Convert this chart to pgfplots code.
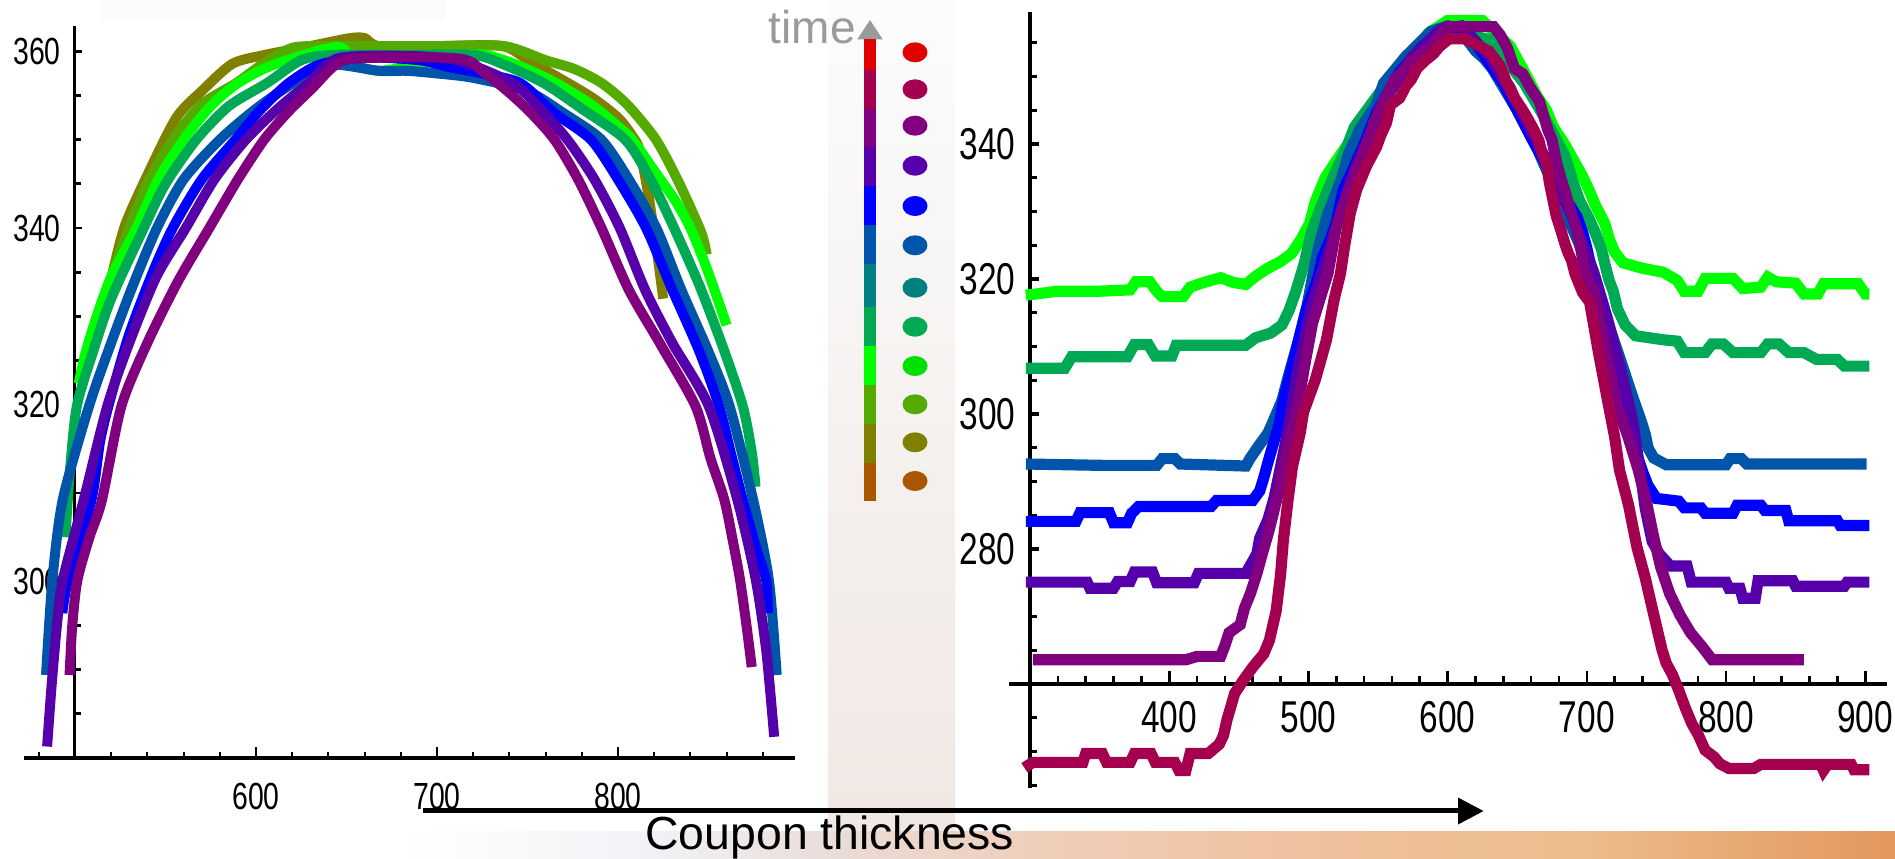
\documentclass[border=0pt]{standalone}
\usepackage{pgfplots}
\pgfplotsset{compat=1.18}
\usepackage{fontspec}
\setmainfont{Liberation Sans}
\newfontfamily\tickfont[FakeStretch=0.75]{Liberation Sans}
\newcommand{\lticks}{\tickfont\fontsize{18.9pt}{20pt}\selectfont}
\newcommand{\rticks}{\tickfont\fontsize{22.3pt}{24pt}\selectfont}

% series colours, earliest to latest
\definecolor{cBrown}{HTML}{AA5500}
\definecolor{cOlive}{HTML}{808000}
\definecolor{cYG}{HTML}{55AA00}
\definecolor{cLime}{HTML}{00FF00}
\definecolor{cLimeDot}{HTML}{00E000}
\definecolor{cGreen}{HTML}{00AA55}
\definecolor{cTeal}{HTML}{008080}
\definecolor{cSteel}{HTML}{0055AA}
\definecolor{cBlue}{HTML}{0000FF}
\definecolor{cIndigo}{HTML}{5500AA}
\definecolor{cPurple}{HTML}{800080}
\definecolor{cCrimson}{HTML}{A50050}
\definecolor{cRed}{HTML}{E00000}
\definecolor{cGrey}{HTML}{9A9A9A}
% backdrop tints
\definecolor{bgTop}{HTML}{F9FBFD}
\definecolor{bandTop}{HTML}{FBFCFD}
\definecolor{bandMid}{HTML}{F7F8FA}
\definecolor{bandBot}{HTML}{F0E7E2}
\definecolor{bgA}{HTML}{F1F2F6}
\definecolor{bgB}{HTML}{EADBD6}
\definecolor{bgC}{HTML}{F0CBB4}
\definecolor{bgD}{HTML}{EFC09C}
\definecolor{bgE}{HTML}{ECBE8E}
\definecolor{bgF}{HTML}{E6A068}
\definecolor{bgG}{HTML}{E3985C}

\begin{document}
\begin{tikzpicture}
\path[use as bounding box] (0pt,0pt) rectangle (947.5pt,-429pt);
\clip (0pt,0pt) rectangle (947.5pt,-429pt);

% ---------- backdrop ----------
\begin{scope}[x=0.5pt,y=-0.5pt]
  \fill[bgTop] (100,0) rectangle (445,20);
  \shade[top color=bandTop, middle color=bandMid, bottom color=bandBot] (828,0) rectangle (955,858);
  \shade[left color=white, right color=bgA] (400,831) rectangle (653,858);
  \shade[left color=bgA, right color=bgB] (652,831) rectangle (847,858);
  \shade[left color=bgB, right color=bgC] (846,831) rectangle (1089,858);
  \shade[left color=bgC, right color=bgD] (1088,831) rectangle (1330,858);
  \shade[left color=bgD, right color=bgE] (1329,831) rectangle (1572,858);
  \shade[left color=bgE, right color=bgF] (1571,831) rectangle (1814,858);
  \shade[left color=bgF, right color=bgG] (1813,831) rectangle (1895,858);
\end{scope}

% ---------- left panel ----------
\begin{axis}[
  at={(12.15pt,-379pt)}, anchor=south west,
  x=0.905pt, y=4.4165pt,
  xmin=472, xmax=898, ymin=280, ymax=362.9,
  hide axis, clip=false,
  every axis plot/.append style={smooth, tension=0.45, line width=5pt, mark=none},
]
  % axes crossing at (500,280)
  \draw[line width=2pt] (axis cs:472,280) -- (axis cs:898,280);
  \draw[line width=1.5pt] (axis cs:500,280) -- (axis cs:500,362.9);
  \pgfplotsinvokeforeach{480,520,540,560,580,620,640,660,680,720,740,760,780,820,840,860,880}{
    \draw[line width=1pt] (axis cs:#1,280) -- ++(0pt,2.9pt);
  }
  \pgfplotsinvokeforeach{600,700,800}{
    \draw[line width=1pt] (axis cs:#1,280) -- ++(0pt,5.6pt);
    \node[font=\lticks, inner sep=0pt] at (axis cs:#1,280) [yshift=-19.25pt] {#1};
  }
  \pgfplotsinvokeforeach{285,290,295,305,310,315,325,330,335,345,350,355}{
    \draw[line width=1.4pt] (axis cs:500,#1) -- ++(3pt,0pt);
  }
  \pgfplotsinvokeforeach{300,320,340,360}{
    \draw[line width=1.4pt] (axis cs:500,#1) -- ++(3.5pt,0pt);
    \node[font=\lticks, inner sep=0pt, anchor=east] at (axis cs:500,#1) [xshift=-7pt] {#1};
  }

  \addplot[cOlive] coordinates {
    (518,332) (522,336) (528,340.5) (540,346) (556,352.5) (570,355.5) (587,358.6)
    (605,359.6) (630,360.6) (652,361.5) (660,361.5) (668,360.6) (700,360.6) (736,360.6)
    (752,358.8) (784,355) (800,352.5) (808,350.4) (812,348.8) (817,343.5) (822,336.6) (825,332)};
  \addplot[cYG] coordinates {
    (515,331) (521,335) (529,339.5) (540,345) (554,350) (570,354) (589,356.4) (604,358.6)
    (620,360.4) (638,360.6) (674,360.6) (701,360.6) (737,360.6) (760,359) (776,358)
    (791,356.4) (805,354) (821,350) (834,345) (846,339.5) (849,337)};
  \addplot[cLime] coordinates {
    (502,322.4) (506,326) (512,330) (520,334.5) (534,340) (546,345.5) (560,350) (575,353.8)
    (590,356.4) (610,358.5) (645,360.5) (655,358.5) (668,357.8) (690,358.5) (712,359.5)
    (727,359.6) (745,358.4) (765,356.5) (785,354) (800,351.5) (808,350) (820,346.5)
    (832,343) (840,340) (848,336) (855,332) (860,329)};
  \addplot[cGreen] coordinates {
    (494.7,305) (497,312) (501,319.8) (510,326) (520,332) (538,340) (550,345) (567,350)
    (585,353.8) (606,356.4) (625,359) (643,359.6) (680,359.6) (720,359.6) (737,358.5)
    (759,356.4) (780,353.5) (804,350) (818,345.5) (831,340) (845,333.5) (858,326.5)
    (869,319.8) (874,314.5) (876,310.7)};
  \addplot[cSteel] coordinates {
    (484,289.4) (487.5,300.1) (493.2,309.2) (507.7,319.8) (520,327) (532,333.5) (545.3,340)
    (560,345.5) (580,350) (600,353.5) (620.4,356.4) (640,358.5) (668,357.8) (683,357.8)
    (700,357.5) (720,357) (750,355.5) (770,353) (790.9,350) (806,345.5) (821.2,340)
    (835,333) (850,326) (861.7,319.8) (874.7,309.2) (883.4,300.1) (887.7,289.4)};
  \addplot[cBlue] coordinates {
    (493,296.4) (496.1,300.1) (509.1,309.2) (514,316) (520,321) (530,328) (543,335)
    (554,340) (570,345.5) (588.6,350) (603,353.5) (618,356.4) (635,358.5) (660,359.3)
    (690,359) (707,358.2) (725,357.5) (746.1,356.4) (765,353) (785.1,350) (800,345.5)
    (815.5,340) (830,333) (845,326) (855.9,319.8) (863,314) (869,309.2) (876,304)
    (881.9,300.1) (882.8,296.4)};
  \addplot[cIndigo] coordinates {
    (484.6,281.3) (487,288) (490,295) (493.2,300.1) (504.8,309.2) (517.8,319.8) (530,327)
    (545,334.5) (561.2,340) (577,345.5) (594.4,350) (612,353.5) (629,356.4) (645,359.2)
    (680,359.5) (711,359) (741.8,356.4) (757,353.5) (772.1,350) (787,345.5) (801,340)
    (815,333) (830,327) (850.2,319.8) (866,309.2) (876.2,300.1) (882,292) (886.3,282.4)};
  \addplot[cPurple] coordinates {
    (497,289.4) (498.5,295) (501.3,300.1) (508,305) (514.9,309.2) (525.6,319.8) (540,327)
    (557,334) (574.2,340) (590,345.5) (604.5,350) (618,353.2) (631,355.8) (643,358.3)
    (655,359.2) (712,359.2) (726,357.6) (740,355.3) (752,353) (764.9,350) (778,345.5)
    (790.9,340) (806,333) (823,327) (842.9,319.8) (851,314) (858.8,309.2) (864,304)
    (867.5,300.1) (871,295) (873.9,290.3)};
\end{axis}

% ---------- right panel ----------
\begin{axis}[
  at={(504.56pt,-394pt)}, anchor=south west,
  x=0.696pt, y=3.375pt,
  xmin=285, xmax=916, ymin=244.6, ymax=359.5,
  hide axis, clip=false,
  every axis plot/.append style={line width=5.6pt, mark=none},
]
  % axes crossing at (300,260)
  \draw[line width=2pt] (axis cs:285,260) -- (axis cs:916,260);
  \draw[line width=1.65pt] (axis cs:300,244.6) -- (axis cs:300,359.5);
  \pgfplotsinvokeforeach{320,340,360,380,420,440,460,480,520,540,560,580,620,640,660,680,720,740,760,780,820,840,860,880}{
    \draw[line width=1.3pt] (axis cs:#1,260) -- ++(0pt,4pt);
  }
  \pgfplotsinvokeforeach{400,500,600,700,800,900}{
    \draw[line width=1.3pt] (axis cs:#1,260) -- ++(0pt,6.5pt);
    \node[font=\rticks, inner sep=0pt] at (axis cs:#1,260) [yshift=-16.75pt] {#1};
  }
  \pgfplotsinvokeforeach{245,250,255,265,270,275,285,290,295,305,310,315,325,330,335,345,350,355}{
    \draw[line width=1.6pt] (axis cs:300,#1) -- ++(3.3pt,0pt);
  }
  \pgfplotsinvokeforeach{280,300,320,340}{
    \draw[line width=1.6pt] (axis cs:300,#1) -- ++(4.5pt,0pt);
    \node[font=\rticks, inner sep=0pt, anchor=east] at (axis cs:300,#1) [xshift=-7pt] {#1};
  }

  \addplot[cLime] coordinates {
    (297,317.6) (320,318.2) (350,318.2) (372,318.4) (376,319.6) (386,319.6) (391,318.2)
    (395,317.4) (410,317.4) (415,318.8) (425,319.5) (437,320.2) (446,319.5) (455,319.2)
    (462,320.4) (470,321.5) (480,322.6) (488,323.8) (495,326) (501,328.3) (505,331.5)
    (512,335) (521,337.8) (530,340.5) (549.6,345) (562.4,349) (579.6,354.4) (586,356.4)
    (600,358.3) (625,358.3) (645,354.5) (657,350) (664,347.2) (671,345) (676,342.5)
    (684,340) (690,337.8) (697,335.2) (702,333) (706,331) (713,328.2) (716,326) (720,324)
    (726,322.4) (740,321.6) (755,321) (765,319.8) (770,318.2) (780,318.2) (785,320.1)
    (805,320.1) (812,318.6) (825,318.8) (830,320.3) (836,319.6) (850,319.4) (856,317.8)
    (866,317.8) (870,319.3) (895,319.3) (900,317.8) (903,317.8)};
  \addplot[cGreen] coordinates {
    (297,306.8) (325,306.8) (330,308.5) (370,308.5) (375,310.3) (385,310.3) (390,308.6)
    (402,308.6) (405,310.2) (455,310.2) (462,311.3) (473,312) (481,313.2) (486,315.3)
    (491,318.2) (497,322.3) (502,326.8) (509,330.7) (519,335.7) (528,339.8) (533,342.5)
    (545,345.9) (554,348.4) (571,351.5) (578,354.6) (590,356.5) (605,356.5) (630,355.5)
    (655,349) (668,344.5) (681,339.6) (684.5,338.1) (688,335.8) (691,333.8) (695,331.5)
    (701,329.2) (706,326.9) (710.7,324.3) (713.6,321.7) (716,319.8) (719,318.2) (722,315.6)
    (727.5,313.2) (735,311.6) (755,311) (765,310.8) (770,309.1) (785,309.1) (790,310.4)
    (798,310.4) (805,309.1) (825,309.1) (830,310.4) (838,310.4) (845,309.1) (856,309.1)
    (865,308.1) (880,308.1) (885,307.1) (903,307.1)};
  \addplot[cSteel] coordinates {
    (297,292.6) (352,292.4) (391,292.4) (395,293.4) (404,293.4) (408,292.6) (455,292.3)
    (458,293.4) (465,295.5) (471,297.2) (474,298.6) (481,302) (486,305.9) (493,311)
    (499,316) (503.5,320.9) (508,325.3) (514,329.7) (523,334.4) (529,338.6) (537,342.2)
    (548.5,345.8) (554,349) (570,353) (588,356.7) (600,357.5) (612,356) (620,353.8)
    (626,352.7) (632,351.2) (650,345) (665,339) (680,332) (695,325) (705,320.3) (708,318.2)
    (716,313) (725,307.5) (733,302.5) (739,299) (742,297) (744,295) (748,293.5) (757,292.5)
    (800,292.5) (803,293.4) (811,293.4) (815,292.6) (901,292.6)};
  \addplot[cBlue] coordinates {
    (297,284.1) (333,284.1) (336,285.4) (357,285.4) (360,283.9) (370,283.9) (373,285.3)
    (378,286.3) (430,286.3) (434,287.2) (460,287.2) (465,288.6) (468,290.6) (471,292.9)
    (474.5,295.4) (479,298.5) (482,302) (487,306) (493,311) (498.5,315.5) (504,318.6)
    (507,320.3) (510,323.2) (515.5,325.7) (520.3,328.6) (522.7,331) (525,333.2) (530,335.3)
    (540,340) (549,344.6) (565,350.5) (582,354.5) (593,355.8) (598,357) (608,357.3)
    (620,355) (640,349) (660,341) (680,333.5) (693,329.2) (697,326.9) (700,324.6)
    (702,322.7) (705,320.5) (709,317.8) (715,313) (722,308) (728,303) (732,299) (736,294)
    (740,291.5) (744,289.4) (750,287.5) (766,287.1) (770,286.1) (782,286.1) (785,285.3)
    (805,285.3) (808,286.5) (825,286.5) (828,285.7) (843,285.7) (845,284.2) (880,284.2)
    (882,283.5) (903,283.5)};
  \addplot[cIndigo] coordinates {
    (297,275.1) (341,275.1) (343,274.2) (360,274.2) (363,275.2) (372,275.2) (375,276.6)
    (388,276.6) (391,275) (418,275) (421,276.4) (455,276.4) (458,277.5) (463,279.3)
    (465,281.6) (471,284.4) (475.5,287.7) (479,291.2) (483,295.2) (487,299.5) (491,305)
    (497,311) (503,316.5) (509,320.5) (516,325) (524,330.5) (532,335.5) (543,341)
    (556,347) (575,353) (595,357) (610,357.5) (630,353) (650,346) (670,338) (690,329)
    (705,321) (715,314) (725,306) (733,299) (738,292) (742,286) (745,283) (747,281.1)
    (752,279.3) (760,277.5) (772,277.5) (775,275.1) (800,275.1) (802,274.2) (810,274.2)
    (812,272.7) (821,272.7) (823,275.3) (848,275.3) (850,274.5) (885,274.5) (887,275.1)
    (903,275.1)};
  \addplot[cPurple] coordinates {
    (302,263.6) (412,263.6) (420,264.1) (437,264.1) (440,265.7) (443,267.6) (451,268.8)
    (454,271.2) (458.5,273.5) (463,276.4) (467,279.4) (471.5,282.6) (475.5,285.9)
    (480,289.7) (484,294) (488.5,297.6) (493,302) (498,308) (503,313.5) (510.5,318.5)
    (514,320.8) (517,324.2) (520,327.7) (525,330.8) (530,333.6) (534.5,336.1) (539,338.4)
    (544,341) (547,343.2) (552,345.5) (557,347.5) (562,349.6) (569,351.1) (574,352.4)
    (580,353.2) (588,354.3) (594,356) (600,357.4) (633,357.4) (638,356.1) (643,354.2)
    (648,351.2) (654,350.4) (659,348.5) (666,346.3) (672,342.1) (675,340.6) (678,337.5)
    (681,335.2) (685.5,332.2) (688,330.4) (692.5,327.4) (696,324.1) (698.5,321.2)
    (702,319.2) (705,318.5) (710,313) (716,307) (722,301) (729.5,296.7) (737,291.7)
    (743,286.8) (748,281.8) (753,277.4) (759.5,273.4) (767,270.2) (774.5,267.6)
    (783,265.5) (790,263.6) (856,263.6)};
  \addplot[cCrimson] coordinates {
    (296,247.6) (302,248.4) (338,248.4) (340,249.7) (352,249.7) (355,248.4) (372,248.4)
    (375,249.7) (387,249.7) (390,248.4) (404,248.4) (407,247.2) (412,247.2) (415,249.7)
    (428,249.7) (436,251.1) (439,252.4) (441.5,254.7) (447,258.6) (453,260.5) (460,262.5)
    (468,264.5) (472,266.5) (476.8,270.8) (480,276.2) (482,281.3) (485.3,287.2)
    (488.5,292.2) (494,297.1) (496.5,300.3) (505,305.1) (513,311) (518.5,317) (523,320.8)
    (526,324.9) (530,329.7) (534.6,333.2) (541.6,336.7) (549,339.6) (552,341.3) (556,343.1)
    (559,345.8) (565.5,346.8) (570,348.6) (574,349.6) (578,351.2) (584,352.4) (590,353.4)
    (594,354.4) (601,355.6) (612,355.6) (622,354.6) (630,353.7) (638,351.5) (642,349.3)
    (645,348.3) (648,346.9) (654,345) (658,343.6) (662,342.1) (665.6,340.5) (667.6,338.8)
    (671.5,336.8) (673,334.4) (678,329.4) (681.4,327.2) (684.3,325.2) (686.7,323.8)
    (689,322.8) (691.5,320.8) (694,319.5) (697,318) (702,316.6) (708.5,309) (714,303)
    (720,296.6) (723.5,291.7) (730,286.5) (736,280.3) (742,275.7) (747.5,270.8) (754,265.1)
    (757,263.1) (761.5,261.4) (766,259.1) (770.5,256.6) (775.3,254.2) (780,252.5)
    (785,250.2) (791.5,249.2) (795.5,248.2) (802,247.5) (820,247.5) (825,248.1) (868,248.1)
    (870,247.2) (873,248.1) (890,248.1) (892,247.3) (903,247.3)};
\end{axis}

% ---------- time key, arrow and caption ----------
\begin{scope}[x=0.5pt,y=-0.5pt]
  \node[anchor=base east, inner sep=0pt, text=cGrey, font=\fontsize{23pt}{25pt}\selectfont] at (856,43) {time};
  \fill[cGrey] (857.3,39.3) -- (882.7,39.3) -- (870,20) -- cycle;
  \fill[cRed]     (864,39.3)  rectangle (876,70);
  \fill[cCrimson] (864,70)    rectangle (876,108.7);
  \fill[cPurple]  (864,108.7) rectangle (876,147.3);
  \fill[cIndigo]  (864,147.3) rectangle (876,186);
  \fill[cBlue]    (864,186)   rectangle (876,225);
  \fill[cSteel]   (864,225)   rectangle (876,263.7);
  \fill[cTeal]    (864,263.7) rectangle (876,307);
  \fill[cGreen]   (864,307)   rectangle (876,346);
  \fill[cLime]    (864,346)   rectangle (876,385);
  \fill[cYG]      (864,385)   rectangle (876,423.7);
  \fill[cOlive]   (864,423.7) rectangle (876,462.7);
  \fill[cBrown]   (864,462.7) rectangle (876,501);
  \fill[cRed]      (915,52.3)  ellipse [x radius=12.5, y radius=10];
  \fill[cCrimson]  (915,89.3)  ellipse [x radius=12.5, y radius=10];
  \fill[cPurple]   (915,125.7) ellipse [x radius=12.5, y radius=10];
  \fill[cIndigo]   (915,165.7) ellipse [x radius=12.5, y radius=10];
  \fill[cBlue]     (915,206)   ellipse [x radius=12.5, y radius=10];
  \fill[cSteel]    (915,245.3) ellipse [x radius=12.5, y radius=10];
  \fill[cTeal]     (915,287.7) ellipse [x radius=12.5, y radius=10];
  \fill[cGreen]    (915,326.7) ellipse [x radius=12.5, y radius=10];
  \fill[cLimeDot]  (915,366)   ellipse [x radius=12.5, y radius=10];
  \fill[cYG]       (915,404.3) ellipse [x radius=12.5, y radius=10];
  \fill[cOlive]    (915,442.3) ellipse [x radius=12.5, y radius=10];
  \fill[cBrown]    (915,481)   ellipse [x radius=12.5, y radius=10];

  \draw[line width=2.5pt] (423,810.5) -- (1460,810.5);
  \fill (1458,797.5) -- (1483.5,811) -- (1458,824.5) -- cycle;
  \node[anchor=base west, inner sep=0pt, font=\fontsize{23.2pt}{25pt}\selectfont] at (645,849) {Coupon thickness};
\end{scope}
\end{tikzpicture}
\end{document}
